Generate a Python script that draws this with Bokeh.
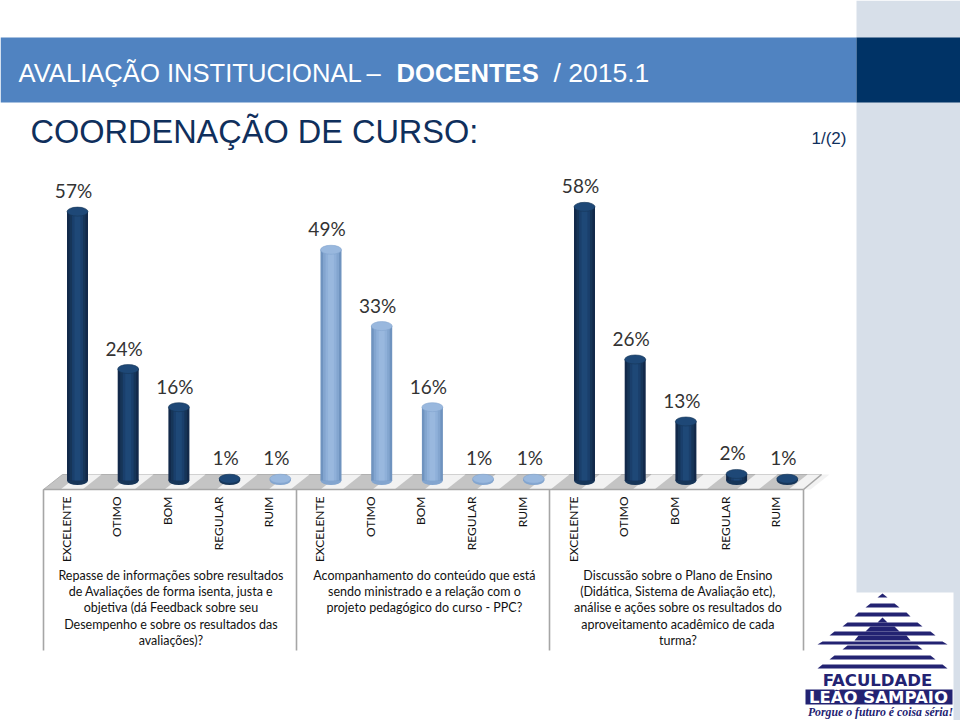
from bokeh.plotting import figure
from bokeh.models import Range1d
from bokeh.core.properties import value
from bokeh.embed import file_html
from bokeh.resources import INLINE

# ---- data ----
categories = ["EXCELENTE", "OTIMO", "BOM", "REGULAR", "RUIM"]
group_1 = [57, 24, 16, 1, 1]
group_2 = [49, 33, 16, 1, 1]
group_3 = [58, 26, 13, 2, 1]
question_1 = ["Repasse de informações sobre resultados", "de Avaliações de forma isenta, justa e",
              "objetiva (dá Feedback sobre seu", "Desempenho e sobre os resultados das", "avaliações)?"]
question_2 = ["Acompanhamento do conteúdo que está", "sendo ministrado e a relação com o",
              "projeto pedagógico do curso - PPC?"]
question_3 = ["Discussão sobre o Plano de Ensino", "(Didática, Sistema de Avaliação etc),",
              "análise e ações sobre os resultados do", "aproveitamento acadêmico de cada", "turma?"]
dark_shades = ["#12294A", "#163558", "#1A3F6C", "#1E4877"]
light_shades = ["#6F93BF", "#83A5CF", "#8FB0D9", "#99B8DE"]
is_light = [False, False, False, False, True, True, True, True, True, True,
            False, False, False, False, False]

values = group_1 + group_2 + group_3
cats = categories * 3
xs = list(range(len(values)))

STEP, X0, PXV, Y0 = 50.7, 77.0, 4.77, 483.0
L, R, T, B = 0, 960, 0, 720

p = figure(width=R - L, height=B - T, output_backend="svg", toolbar_location=None,
           x_range=Range1d((L - X0) / STEP, (R - X0) / STEP),
           y_range=Range1d((Y0 - B) / PXV, (Y0 - T) / PXV), min_border=0,
           background_fill_color="white", outline_line_color=None)
p.extra_x_ranges["px"] = Range1d(L, R)
p.extra_y_ranges["px"] = Range1d(B, T)
p.xaxis.visible = False
p.yaxis.visible = False
p.grid.visible = False
PX = dict(x_range_name="px", y_range_name="px")


def rect(x0, x1, y0, y1, color):
    p.quad(left=x0, right=x1, top=y0, bottom=y1, fill_color=color, line_color=None, **PX)


def label(x, y, txt, size, color="black", font="Liberation Sans", style="normal",
          align="left", baseline="middle"):
    p.text([x], [y], text=[txt], text_font=value(font), text_font_size=f"{size}px",
           text_font_style=style, text_color=color, text_align=align, text_baseline=baseline, **PX)


# ---- slide furniture ----
rect(856, 960, 0, 720, "#D7DFE9")
rect(0, 856, 37, 102, "#5083C1")
rect(856, 960, 37, 102, "#003366")
label(18, 72, "AVALIAÇÃO INSTITUCIONAL", 25.6, "white")
label(366, 72, "–", 25.6, "white")
label(396, 72, "DOCENTES", 25.6, "white", style="bold")
label(553, 72, "/ 2015.1", 26.5, "white")
label(30, 131, "COORDENAÇÃO DE CURSO:", 32.5, "#0F2F5C")
label(811, 138, "1/(2)", 17, "#0F2F5C")

# ---- floor ----
p.patch([43, 62, 821, 803], [489, 474, 474, 489], fill_color="#C4C4C4", line_color="#B0B0B0", **PX)
for sx in range(60, 800, 52):
    p.patch([sx, sx + 19, sx + 41, sx + 22], [489, 474, 474, 489], fill_color="#F2F2F2",
            line_color=None, **PX)
p.multi_line([[43, 43], [296, 296], [549, 549], [803, 803], [43, 803], [803, 821]],
             [[489, 650], [489, 650], [489, 650], [489, 650], [489, 489], [489, 474]],
             line_color="#A6A6A6", line_width=1.6, **PX)

# ---- cylinders ----
BASE_V = (Y0 - 480) / PXV
full = 21 / STEP
for x, v, lt in zip(xs, values, is_light):
    shades = light_shades if lt else dark_shades
    p.ellipse([x], [BASE_V], width=21, height=9, width_units="screen", height_units="screen",
              fill_color=shades[1], line_color=None)
    # nested bars, outermost darkest, give the cylinder its shading
    for k, col in enumerate(shades):
        p.vbar(x=[x], width=full * (1 - k * 0.24), bottom=BASE_V, top=[v],
               fill_color=col, line_color=None)
    p.ellipse([x], [v], width=21, height=9, width_units="screen", height_units="screen",
              fill_color=shades[3], line_color=shades[1], line_width=0.6)

# ---- value labels ----
p.text(xs, values, text=[f"{v}%" for v in values], x_offset=-4, y_offset=-21,
       text_font=value("Lato"), text_font_size="19px", text_color="#333333",
       text_align="center", text_baseline="middle")

# ---- category labels ----
p.text(xs, [(Y0 - 496) / PXV] * len(xs), text=cats, angle=1.5708, x_offset=-4,
       text_font=value("Lato"), text_font_size="12px", text_color="#111111",
       text_align="right", text_baseline="bottom")

# ---- question labels ----
for centre, lines in ((2, question_1), (7, question_2), (12, question_3)):
    p.text([centre] * len(lines), [575 + 16.2 * n for n in range(len(lines))], text=lines,
           x_offset=-8, y_range_name="px", text_font=value("Lato"), text_font_size="12.5px",
           text_color="#111111", text_align="center", text_baseline="middle")

# ---- logo ----
NAVY = "#232372"
rect(805, 953, 592, 720, "white")
bands = [(593, 597, 0, 5), (603, 607, 12, 17), (612, 616, 24, 28), (622, 626, 35, 40),
         (631, 635, 48, 53), (641, 644, 60, 65),
         (617, 622, 0, 5), (626, 631, 12, 17), (635, 640, 24, 28),
         (645, 649, 35, 40), (655, 659, 48, 53), (664, 668, 60, 65)]
for y0, y1, w0, w1 in bands:
    p.patch([882 - w0, 882 + w0, 882 + w1, 882 - w1], [y0, y0, y1, y1], fill_color=NAVY, line_color=None, **PX)
label(877, 680, "FACULDADE", 16.5, NAVY, font="DejaVu Sans", style="bold", align="center")
rect(805, 952, 689, 704, NAVY)
label(878, 697, "LEÃO SAMPAIO", 16.5, "white", font="DejaVu Sans", style="bold", align="center")
label(880, 711, "Porgue o futuro é coisa séria!", 11.8, NAVY, font="Liberation Serif", style="bold italic", align="center")

open("out.html", "w").write(file_html(p, INLINE))
